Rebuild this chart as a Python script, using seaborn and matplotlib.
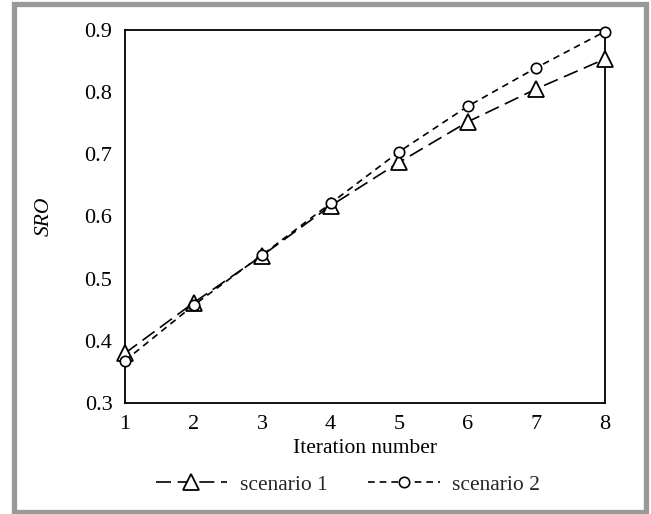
import matplotlib
matplotlib.use('agg')
import matplotlib.pyplot as plt
import matplotlib.patches as patches
import seaborn as sns
import pandas as pd

# data
iterations = [1, 2, 3, 4, 5, 6, 7, 8]
scenario_1 = [0.380, 0.461, 0.537, 0.617, 0.687, 0.752, 0.805, 0.853]
scenario_2 = [0.368, 0.457, 0.538, 0.621, 0.704, 0.777, 0.839, 0.897]
y_ticks = [0.3, 0.4, 0.5, 0.6, 0.7, 0.8, 0.9]

sns.set_theme(style='white')
plt.rcParams['font.family'] = ['Liberation Serif', 'DejaVu Serif']

df = pd.DataFrame({'iteration': iterations, 's1': scenario_1, 's2': scenario_2})

fig = plt.figure(figsize=(6.51, 5.14), dpi=100)
ax = fig.add_axes([0.192, 0.216, 0.737, 0.726])

sns.lineplot(data=df, x='iteration', y='s1', ax=ax, color='black', lw=1.2,
             linestyle=(0, (9, 4)), marker='^', markersize=12,
             markerfacecolor='white', markeredgecolor='black', markeredgewidth=1.3,
             label='scenario 1', clip_on=False, zorder=3)
sns.lineplot(data=df, x='iteration', y='s2', ax=ax, color='black', lw=1.2,
             linestyle=(0, (4, 3)), marker='o', markersize=7.5,
             markerfacecolor='white', markeredgecolor='black', markeredgewidth=1.2,
             label='scenario 2', clip_on=False, zorder=4)

ax.set_xlim(1, 8)
ax.set_ylim(0.3, 0.9)
ax.set_xticks(iterations)
ax.set_yticks(y_ticks)
ax.set_yticklabels([f'{v:.1f}' for v in y_ticks])
ax.tick_params(direction='in', length=5, width=1.2, labelsize=16, colors='black',
               top=False, right=False)
ax.tick_params(axis='y', pad=9)
ax.tick_params(axis='x', pad=9)
for sp in ax.spines.values():
    sp.set_color('black')
    sp.set_linewidth(1.3)

ax.set_xlabel('Iteration number', fontsize=15.5, color='black', labelpad=3)
ax.set_ylabel('SRO', fontsize=15.5, color='black', style='italic', labelpad=22)

ax.legend(loc='upper center', bbox_to_anchor=(0.465, -0.14), ncol=2, frameon=False,
          fontsize=15.5, handlelength=3.3, columnspacing=1.9, handletextpad=0.6)

# gray frame around the picture
fig.patches.append(patches.Rectangle((13.5 / 651, 2.5 / 514), 632 / 651, 508 / 514,
                                     transform=fig.transFigure, fill=False,
                                     edgecolor='#999999', linewidth=3.8))

fig.savefig('out.png', dpi=100)
